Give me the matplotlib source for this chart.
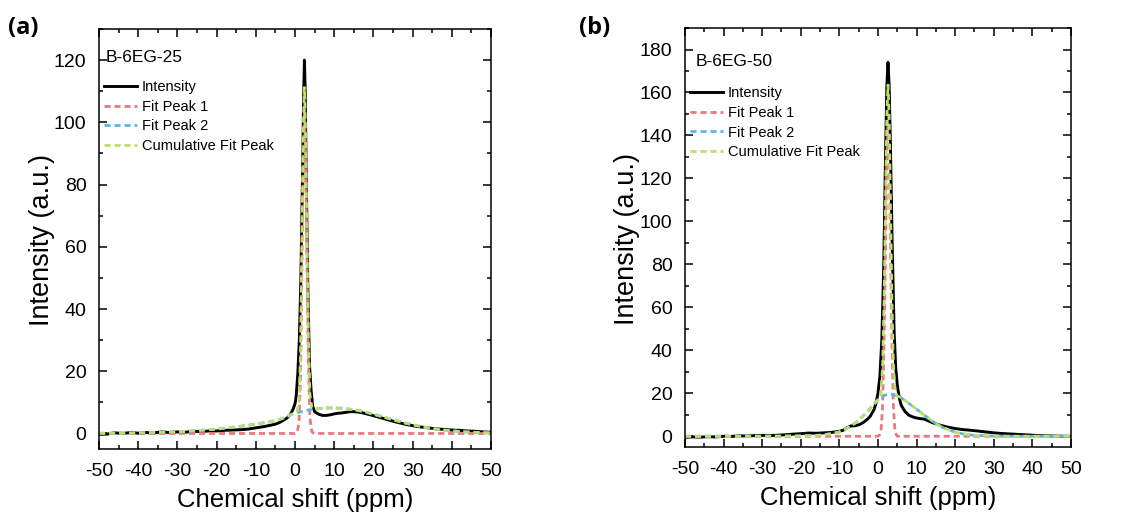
import matplotlib
matplotlib.use("Agg")
import matplotlib.pyplot as plt
from matplotlib.ticker import MultipleLocator
import numpy as np

plt.rcParams['font.family'] = ['Liberation Sans', 'DejaVu Sans']
plt.rcParams['axes.unicode_minus'] = False

# ---- B-6EG-25 ----
shift_a = [-50, -48, -46, -44, -42, -40, -38, -36, -34, -32, -30, -28, -26, -24, -22,
           -20, -18, -16, -14, -12, -10, -8, -6, -5, -4, -3, -2, -1, -0.5, 0,
           0.3, 0.7, 1.1, 1.5, 1.9, 2.2, 2.4, 2.6, 2.9, 3.3, 3.7, 4.1, 4.5, 5, 6, 7, 8, 9,
           10, 11, 12, 13, 14, 15, 16, 17, 18, 20, 22, 24, 26, 28, 30, 32, 34, 36,
           38, 40, 42, 44, 46, 48, 50]
intensity_a = [-0.3, -0.2, 0.2, 0.0, 0.3, 0.1, 0.3, 0.2, 0.5, 0.3, 0.5, 0.4, 0.7, 0.6, 0.8,
               0.8, 1.0, 1.1, 1.2, 1.4, 1.8, 2.2, 2.7, 3.0, 3.5, 4.2, 5.0, 6.5, 7.8, 9.5,
               12, 19, 30, 50, 82, 108, 120, 110, 80, 45, 22, 14, 8.8, 7.0, 6.2, 5.8, 5.8, 6.0,
               6.3, 6.5, 6.6, 6.8, 7.0, 7.0, 6.9, 6.7, 6.4, 5.7, 5.0, 4.3, 3.6, 3.0, 2.5, 2.1, 1.8, 1.5,
               1.3, 1.1, 1.0, 0.8, 0.7, 0.5, 0.4]

fit_shift_a = [-50, -45, -40, -35, -30, -25, -20, -15, -10, -7, -5, -3, -2, -1, 0,
               0.5, 1.0, 1.4, 1.8, 2.1, 2.4, 2.7, 3.0, 3.4, 3.8, 4.3,
               5, 6, 8, 10, 12, 14, 16, 18, 20, 22, 25, 28, 30, 33, 35, 38, 40, 43, 45, 48, 50]
peak1_a = [0, 0, 0, 0, 0, 0, 0, 0, 0, 0, 0, 0, 0, 0, 0,
           0.3, 3, 18, 58, 90, 104, 90, 60, 24, 5, 0.5,
           0, 0, 0, 0, 0, 0, 0, 0, 0, 0, 0, 0, 0, 0, 0, 0, 0, 0, 0, 0, 0]
peak2_a = [0.05, 0.1, 0.2, 0.35, 0.55, 0.9, 1.4, 2.1, 3.0, 3.6, 4.1, 4.9, 5.5, 6.1, 6.5,
           6.7, 6.8, 6.9, 7.0, 7.1, 7.2, 7.3, 7.4, 7.5, 7.6, 7.7,
           7.8, 8.0, 8.2, 8.2, 8.1, 7.8, 7.4, 6.9, 6.2, 5.5, 4.4, 3.4, 2.8, 2.0, 1.6, 1.1, 0.85,
           0.55, 0.4, 0.25, 0.18]

# ---- B-6EG-50 ----
shift_b = [-50, -48, -46, -44, -42, -40, -38, -36, -34, -32, -30, -28, -26, -24, -22,
           -20, -18, -16, -14, -12, -10, -9, -8, -7, -6, -5, -4, -3, -2, -1, -0.5, 0,
           0.5, 1.0, 1.5, 2.0, 2.3, 2.6, 2.9, 3.2, 3.7, 4.2, 4.6, 5, 5.5, 6, 7, 8, 9,
           10, 11, 12, 13, 14, 15, 16, 18, 20, 22, 24, 26, 28, 30, 32, 34, 36, 38,
           40, 42, 44, 46, 48, 50]
intensity_b = [-0.5, -0.3, -0.4, -0.2, -0.3, 0.0, -0.1, 0.2, 0.1, 0.3, 0.4, 0.3, 0.5, 0.7, 1.0,
               1.2, 1.5, 1.4, 1.6, 1.8, 2.3, 2.8, 4.0, 4.8, 4.9, 5.3, 6.2, 7.5, 9.3, 12.5, 15.5, 20,
               28, 45, 80, 135, 163, 174, 163, 138, 88, 48, 32, 24, 18, 14.5, 11.5, 9.8, 9.0,
               8.5, 8.2, 8.0, 7.2, 6.4, 5.8, 5.2, 4.3, 3.6, 3.1, 2.8, 2.4, 2.0, 1.6, 1.3, 1.1, 0.9, 0.7,
               0.5, 0.3, 0.2, 0.1, 0.0, 0.0]

fit_shift_b = [-50, -40, -30, -25, -20, -17, -15, -12, -10, -8, -6, -5, -4, -3, -2, -1, 0,
               0.4, 0.8, 1.2, 1.6, 2.0, 2.3, 2.6, 2.9, 3.2, 3.6, 4.0, 4.4, 4.8,
               5, 6, 7, 8, 10, 12, 14, 15, 17, 20, 22, 25, 30, 35, 40, 45, 50]
peak1_b = [0, 0, 0, 0, 0, 0, 0, 0, 0, 0, 0, 0, 0, 0, 0, 0, 0,
           0.5, 2.5, 14, 45, 93, 130, 144, 130, 93, 45, 14, 2.5, 0.5,
           0, 0, 0, 0, 0, 0, 0, 0, 0, 0, 0, 0, 0, 0, 0, 0, 0]
peak2_b = [0, 0, 0.02, 0.05, 0.15, 0.3, 0.5, 1.2, 2.0, 3.8, 6.0, 7.5, 9.2, 11.0, 13.0, 15.0, 17.0,
           17.6, 18.1, 18.5, 18.9, 19.2, 19.4, 19.5, 19.6, 19.6, 19.5, 19.4, 19.2, 18.9,
           18.8, 17.9, 16.7, 15.3, 12.6, 9.8, 7.2, 5.9, 3.9, 1.9, 1.1, 0.45, 0.08, 0, 0, 0, 0]

RED = '#E8797C'
BLUE = '#5DB6E6'
GREEN = '#B9E06C'
DASH = (0, (2.2, 1.4))


def draw_panel(ax, shift, inten, fx, p1, p2, sample, ylim, ytop,
               txt_x, txt_y, leg_y, ylab_x):
    cumulative = np.array(p1) + np.array(p2)
    ax.plot(shift, inten, color='black', lw=2.1, label='Intensity')
    ax.plot(fx, p1, color=RED, lw=2.0, ls=DASH, label='Fit Peak 1')
    ax.plot(fx, p2, color=BLUE, lw=2.0, ls=DASH, label='Fit Peak 2')
    ax.plot(fx, cumulative, color=GREEN, lw=2.0, ls=DASH, label='Cumulative Fit Peak')

    ax.set_xlim(-50, 50)
    ax.xaxis.set_major_locator(MultipleLocator(10))
    ax.xaxis.set_minor_locator(MultipleLocator(5))
    ax.yaxis.set_minor_locator(MultipleLocator(10))
    ax.set_yticks(np.arange(0, ytop + 1, 20))
    ax.set_ylim(*ylim)
    ax.tick_params(which='both', direction='in', top=True, right=True, width=1.1)
    ax.tick_params(which='major', length=6, labelsize=14)
    ax.tick_params(axis='x', which='major', pad=10)
    ax.tick_params(axis='y', which='major', pad=9)
    ax.tick_params(which='minor', length=3)
    for sp in ax.spines.values():
        sp.set_linewidth(1.1)

    ax.set_xlabel('Chemical shift (ppm)', fontsize=18.5, labelpad=6)
    ax.set_ylabel('Intensity (a.u.)', fontsize=19.5, va='center')
    ax.yaxis.set_label_coords(ylab_x, 0.497)

    ax.text(txt_x, txt_y, sample, transform=ax.transAxes, fontsize=12.5,
            ha='left', va='center')
    ax.legend(loc='upper left', bbox_to_anchor=(0.012, leg_y), frameon=False,
              fontsize=10.5, handlelength=2.3, handletextpad=0.3,
              labelspacing=0.4, borderpad=0, borderaxespad=0)


fig = plt.figure(figsize=(11.29, 5.16), dpi=100)
ax_a = fig.add_axes([0.0877, 0.1298, 0.3472, 0.814])
ax_b = fig.add_axes([0.6067, 0.1337, 0.3419, 0.812])

draw_panel(ax_a, shift_a, intensity_a, fit_shift_a, peak1_a, peak2_a,
           'B-6EG-25', (-5, 130), 120, 0.018, 0.933, 0.879, -0.145)
draw_panel(ax_b, shift_b, intensity_b, fit_shift_b, peak1_b, peak2_b,
           'B-6EG-50', (-5, 190), 180, 0.028, 0.921, 0.862, -0.150)

fig.text(0.007, 0.945, '(a)', fontsize=17, fontweight='bold', family='Open Sans', va='center')
fig.text(0.513, 0.945, '(b)', fontsize=17, fontweight='bold', family='Open Sans', va='center')

fig.savefig('out.png', dpi=100)
